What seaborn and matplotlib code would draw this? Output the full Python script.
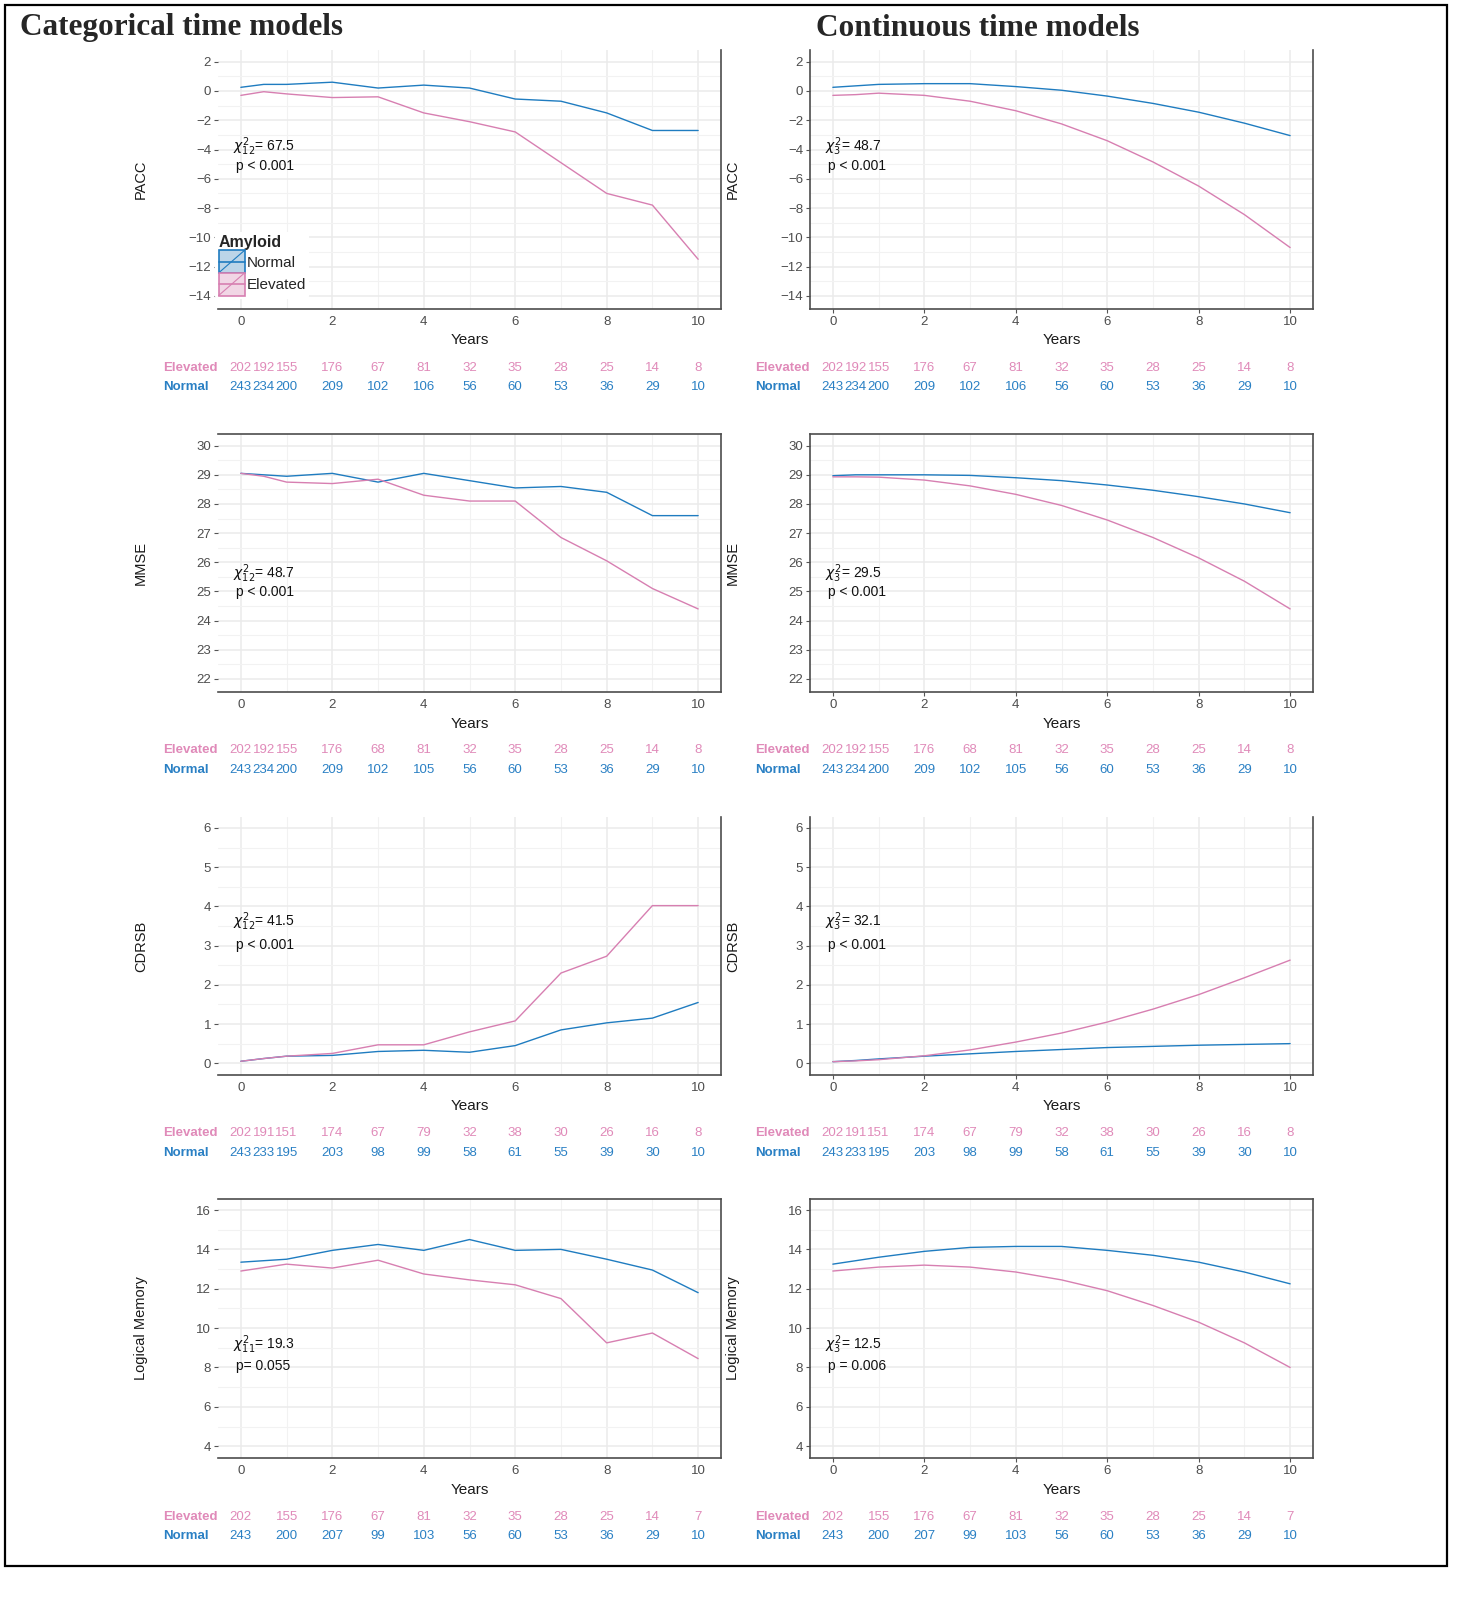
import numpy as np
import pandas as pd
import seaborn as sns
import matplotlib.pyplot as plt
from matplotlib.patches import Rectangle
from matplotlib.lines import Line2D
from matplotlib.legend_handler import HandlerBase
import matplotlib.transforms as mtransforms

# ---- data ----
years_a = [0, 0.5, 1, 2, 3, 4, 5, 6, 7, 8, 9, 10]
years_b = [0, 1, 2, 3, 4, 5, 6, 7, 8, 9, 10]

pacc_cat_normal = [0.25, 0.45, 0.45, 0.6, 0.2, 0.4, 0.2, -0.55, -0.7, -1.5, -2.7, -2.7]
pacc_cat_elev = [-0.3, -0.05, -0.2, -0.45, -0.4, -1.5, -2.1, -2.8, -4.9, -7.0, -7.8, -11.5]
pacc_con_normal = [0.25, 0.35, 0.45, 0.5, 0.5, 0.3, 0.05, -0.35, -0.85, -1.45, -2.2, -3.05]
pacc_con_elev = [-0.3, -0.25, -0.15, -0.3, -0.7, -1.35, -2.25, -3.4, -4.85, -6.5, -8.45, -10.7]

mmse_cat_normal = [29.05, 29.0, 28.95, 29.05, 28.75, 29.05, 28.8, 28.55, 28.6, 28.4, 27.6, 27.6]
mmse_cat_elev = [29.05, 28.95, 28.75, 28.7, 28.85, 28.3, 28.1, 28.1, 26.85, 26.05, 25.1, 24.4]
mmse_con_normal = [28.97, 29.0, 29.0, 29.0, 28.98, 28.9, 28.8, 28.65, 28.47, 28.25, 28.0, 27.7]
mmse_con_elev = [28.93, 28.93, 28.92, 28.82, 28.62, 28.33, 27.95, 27.45, 26.85, 26.15, 25.35, 24.4]

cdrsb_cat_normal = [0.05, 0.12, 0.18, 0.2, 0.3, 0.33, 0.28, 0.45, 0.85, 1.03, 1.15, 1.55]
cdrsb_cat_elev = [0.05, 0.12, 0.18, 0.25, 0.47, 0.47, 0.8, 1.08, 2.3, 2.73, 4.02, 4.02]
cdrsb_con_normal = [0.04, 0.07, 0.11, 0.18, 0.24, 0.3, 0.35, 0.4, 0.43, 0.46, 0.48, 0.5]
cdrsb_con_elev = [0.04, 0.06, 0.09, 0.19, 0.34, 0.54, 0.77, 1.05, 1.38, 1.75, 2.18, 2.63]

lm_cat_normal = [13.35, 13.5, 13.95, 14.25, 13.95, 14.5, 13.95, 14.0, 13.5, 12.95, 11.8]
lm_cat_elev = [12.9, 13.25, 13.05, 13.45, 12.75, 12.45, 12.2, 11.5, 9.25, 9.75, 8.45]
lm_con_normal = [13.25, 13.6, 13.9, 14.1, 14.15, 14.15, 13.95, 13.7, 13.35, 12.85, 12.25]
lm_con_elev = [12.9, 13.1, 13.2, 13.1, 12.85, 12.45, 11.9, 11.15, 10.3, 9.25, 8.0]

n_pacc_elev = [202, 192, 155, 176, 67, 81, 32, 35, 28, 25, 14, 8]
n_pacc_normal = [243, 234, 200, 209, 102, 106, 56, 60, 53, 36, 29, 10]
n_mmse_elev = [202, 192, 155, 176, 68, 81, 32, 35, 28, 25, 14, 8]
n_mmse_normal = [243, 234, 200, 209, 102, 105, 56, 60, 53, 36, 29, 10]
n_cdrsb_elev = [202, 191, 151, 174, 67, 79, 32, 38, 30, 26, 16, 8]
n_cdrsb_normal = [243, 233, 195, 203, 98, 99, 58, 61, 55, 39, 30, 10]
n_lm_elev = [202, 155, 176, 67, 81, 32, 35, 28, 25, 14, 7]
n_lm_normal = [243, 200, 207, 99, 103, 56, 60, 53, 36, 29, 10]

outcomes = ["PACC", "MMSE", "CDRSB", "Logical Memory"]
cat_stats = [("12", "67.5", "p < 0.001"), ("12", "48.7", "p < 0.001"),
             ("12", "41.5", "p < 0.001"), ("11", "19.3", "p= 0.055")]
con_stats = [("3", "48.7", "p < 0.001"), ("3", "29.5", "p < 0.001"),
             ("3", "32.1", "p < 0.001"), ("3", "12.5", "p = 0.006")]

BLUE = "#1f7cc0"
PINK = "#d77fb1"
BLUE_TXT = "#2a80c4"
PINK_TXT = "#e08ab9"


class KeyStyle:
    def __init__(self, fill, edge):
        self.fill = fill
        self.edge = edge


class KeyHandler(HandlerBase):
    # ggplot-like key: filled ribbon box, a horizontal line and a diagonal
    def create_artists(self, legend, orig, xd, yd, width, height, fontsize, trans):
        x0, y0 = -xd, -yd
        box = Rectangle((x0, y0), width, height, facecolor=orig.fill,
                        edgecolor=orig.edge, linewidth=1.2, transform=trans)
        hline = Line2D([x0, x0 + width], [y0 + height / 2] * 2, color=orig.edge,
                       linewidth=1.2, transform=trans)
        dline = Line2D([x0, x0 + width], [y0, y0 + height], color=orig.edge,
                       linewidth=0.8, transform=trans)
        return [box, hline, dline]


sns.set_theme(style="whitegrid")
plt.rcParams['font.family'] = ['Liberation Sans', 'DejaVu Sans']
plt.rcParams['mathtext.fontset'] = 'dejavusans'

fig = plt.figure(figsize=(14.82, 15.97), dpi=100)
W, H = 1482, 1597


def px_axes(x0, top, x1, bottom):
    return fig.add_axes([x0 / W, 1 - bottom / H, (x1 - x0) / W, (bottom - top) / H])


rows_px = [(50, 309), (434, 692), (817, 1075), (1199, 1458)]
cols_px = [(218, 721), (810, 1313)]
ylims = [(-14.9, 2.8), (21.55, 30.4), (-0.3, 6.28), (3.4, 16.56)]
yticks = [np.arange(-14, 3, 2), np.arange(22, 31, 1), np.arange(0, 7, 1), np.arange(4, 17, 2)]
ann_y = [(0.626, 0.554), (0.458, 0.386), (0.593, 0.502), (0.436, 0.354)]

panels = [
    [(years_a, pacc_cat_normal, pacc_cat_elev), (years_a, pacc_con_normal, pacc_con_elev)],
    [(years_a, mmse_cat_normal, mmse_cat_elev), (years_a, mmse_con_normal, mmse_con_elev)],
    [(years_a, cdrsb_cat_normal, cdrsb_cat_elev), (years_a, cdrsb_con_normal, cdrsb_con_elev)],
    [(years_b, lm_cat_normal, lm_cat_elev), (years_b, lm_con_normal, lm_con_elev)],
]
counts = [(n_pacc_elev, n_pacc_normal), (n_mmse_elev, n_mmse_normal),
          (n_cdrsb_elev, n_cdrsb_normal), (n_lm_elev, n_lm_normal)]

for r in range(4):
    for c in range(2):
        top, bottom = rows_px[r]
        x0, x1 = cols_px[c]
        ax = px_axes(x0, top, x1, bottom)
        yrs, nor, ele = panels[r][c]
        df = pd.DataFrame({
            "Years": list(yrs) * 2,
            "value": list(nor) + list(ele),
            "Amyloid": ["Normal"] * len(yrs) + ["Elevated"] * len(yrs),
        })
        sns.lineplot(data=df, x="Years", y="value", hue="Amyloid",
                     palette={"Normal": BLUE, "Elevated": PINK},
                     linewidth=1.0, legend=False, ax=ax, zorder=3)
        ax.set_xlim(-0.5, 10.5)
        ax.set_ylim(*ylims[r])
        ax.set_xticks([0, 2, 4, 6, 8, 10])
        ax.set_xticks([1, 3, 5, 7, 9], minor=True)
        ax.set_yticks(yticks[r])
        step = yticks[r][1] - yticks[r][0]
        ax.set_yticks(yticks[r][:-1] + step / 2, minor=True)
        ax.grid(which="major", color="#ebebeb", linewidth=1.1)
        ax.grid(which="minor", color="#f2f2f2", linewidth=0.8)
        ax.set_facecolor("white")
        ax.tick_params(axis="both", which="major", labelsize=9.5, labelcolor="#4d4d4d",
                       color="#555555", length=3, width=0.8, left=True, bottom=(c == 1), pad=2)
        ax.tick_params(axis="both", which="minor", length=0)
        ax.set_xlabel("Years", fontsize=11, color="#1a1a1a", labelpad=4)
        ax.set_ylabel(outcomes[r], fontsize=10.5, color="#1a1a1a")
        ax.yaxis.set_label_coords(-0.139, 0.5)

        for side in ["top", "bottom", "left", "right"]:
            ax.spines[side].set_color("#4d4d4d")
            ax.spines[side].set_linewidth(1.2)
        ax.spines["top"].set_visible(r in (1, 3))
        ax.spines["left"].set_visible(c == 1)

        stats = cat_stats[r] if c == 0 else con_stats[r]
        ax.text(0.03, ann_y[r][0], r"$\chi^2_{%s}$= %s" % (stats[0], stats[1]),
                transform=ax.transAxes, fontsize=10, va="center", ha="left", color="#111111")
        ax.text(0.035, ann_y[r][1], stats[2], transform=ax.transAxes,
                fontsize=10, va="center", ha="left", color="#111111")

        # numbers at risk below each panel
        trans = mtransforms.blended_transform_factory(ax.transData, ax.transAxes)
        n_el, n_no = counts[r]
        ax.text(-1.7, -0.226, "Elevated", transform=trans, color=PINK_TXT,
                fontsize=9.5, fontweight="bold", ha="left", va="center")
        ax.text(-1.7, -0.302, "Normal", transform=trans, color=BLUE_TXT,
                fontsize=9.5, fontweight="bold", ha="left", va="center")
        for xv, ne, nn in zip(yrs, n_el, n_no):
            ax.text(xv, -0.226, str(ne), transform=trans, color=PINK_TXT,
                    fontsize=9.5, ha="center", va="center")
            ax.text(xv, -0.302, str(nn), transform=trans, color=BLUE_TXT,
                    fontsize=9.5, ha="center", va="center")

        if r == 0 and c == 0:
            keys = [KeyStyle("#bcd5e8", BLUE), KeyStyle("#f1d6e5", PINK)]
            leg = ax.legend(keys, ["Normal", "Elevated"], title="Amyloid",
                            handler_map={KeyStyle: KeyHandler()},
                            loc="lower left", bbox_to_anchor=(-0.005, 0.04),
                            fontsize=11, title_fontsize=11.5, frameon=True,
                            facecolor="white", edgecolor="none", framealpha=1,
                            handlelength=1.7, handleheight=1.9, handletextpad=0.15,
                            labelspacing=0.0, borderpad=0.2, borderaxespad=0)
            leg.get_title().set_fontweight("bold")
            leg._legend_box.align = "left"

fig.text(20 / W, 1 - 28 / H, "Categorical time models", fontsize=22.5, fontweight="bold",
         family="Liberation Serif", ha="left", va="center")
fig.text(816 / W, 1 - 28 / H, "Continuous time models", fontsize=22.5, fontweight="bold",
         family="Liberation Serif", ha="left", va="center")

fig.patches.append(Rectangle((5 / W, 1 - 1566 / H), 1442 / W, 1561 / H,
                             transform=fig.transFigure, fill=False,
                             edgecolor="black", linewidth=1.6))

fig.savefig("out.png", dpi=100, facecolor="white")
